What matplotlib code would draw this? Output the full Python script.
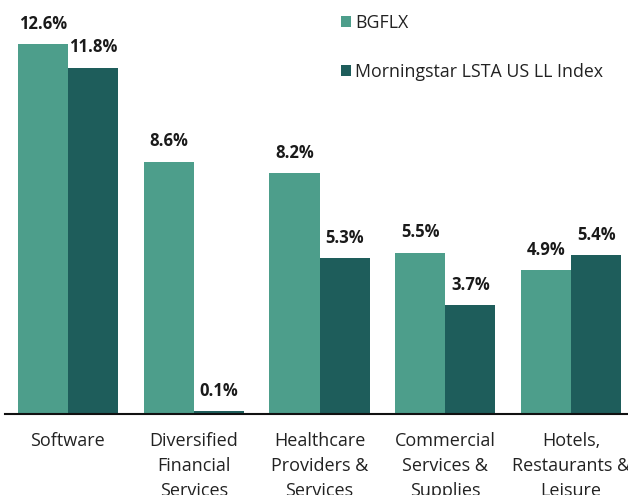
import matplotlib
matplotlib.use("Agg")
import matplotlib.pyplot as plt
import numpy as np

categories = ["Software", "Diversified\nFinancial\nServices", "Healthcare\nProviders &\nServices",
              "Commercial\nServices &\nSupplies", "Hotels,\nRestaurants &\nLeisure"]
series_names = ["BGFLX", "Morningstar LSTA US LL Index"]
bgflx = [12.6, 8.6, 8.2, 5.5, 4.9]
lsta = [11.8, 0.1, 5.3, 3.7, 5.4]
colors = ["#4D9E8B", "#1E5D5B"]

plt.rcParams['font.family'] = ['Open Sans', 'DejaVu Sans']

W, H = 628, 495
fig = plt.figure(figsize=(W / 100, H / 100), dpi=100)
left = 5 / W
bottom = (H - 414) / H
ax = fig.add_axes([left, bottom, 629 / W, (414 - 3) / H])

x = np.arange(len(categories))
bw = 50 / 125.75
b1 = ax.bar(x - bw / 2, bgflx, bw, color=colors[0], label=series_names[0])
b2 = ax.bar(x + bw / 2, lsta, bw, color=colors[1], label=series_names[1])

for bars, vals in [(b1, bgflx), (b2, lsta)]:
    for r, v in zip(bars, vals):
        ax.annotate(f"{v:.1f}%", (r.get_x() + r.get_width() / 2, v),
                    xytext=(0, 11), textcoords="offset points",
                    ha="center", va="baseline", fontsize=12, fontweight="bold",
                    color="#1a1a1a")

ax.set_xlim(-0.5, 4.5)
ax.set_ylim(0, 14)
ax.set_xticks(x)
ax.set_xticklabels(categories, fontsize=13, linespacing=1.5, color="#222222")
ax.tick_params(axis="x", length=0, pad=13)
ax.set_yticks([])
for s in ["top", "right", "left"]:
    ax.spines[s].set_visible(False)
ax.spines["bottom"].set_linewidth(1.5)
ax.spines["bottom"].set_color("#111111")

leg = fig.legend(handles=[b1, b2], labels=series_names, loc="upper left",
                 bbox_to_anchor=(341 / W, 1 - 14 / H), frameon=False, fontsize=12.8,
                 handlelength=0.55, handleheight=0.55, handletextpad=0.25,
                 labelspacing=1.75, borderpad=0, borderaxespad=0)
for t in leg.get_texts():
    t.set_color("#222222")

fig.savefig("out.png", dpi=100)
